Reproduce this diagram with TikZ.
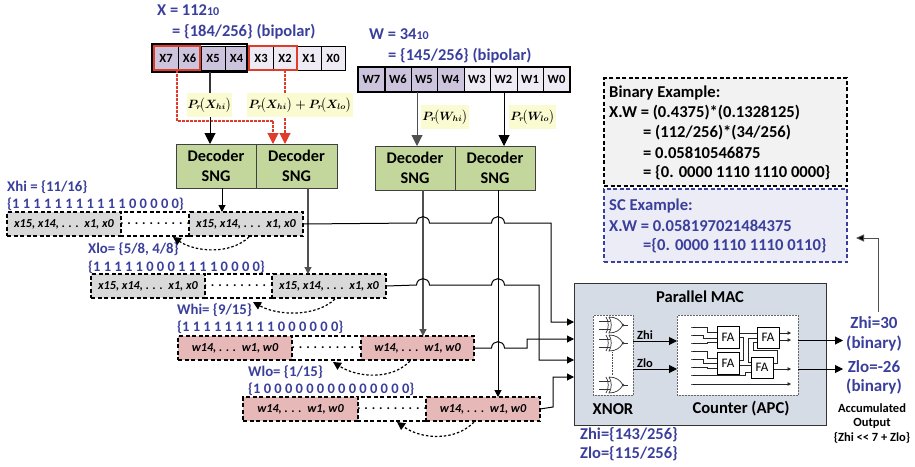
\documentclass[tikz,border=0pt]{standalone}
\usepackage{amsmath}
\usepackage{fontspec}
\setmainfont{Carlito}
\usetikzlibrary{arrows.meta,calc}
\definecolor{tblue}{HTML}{3A3F9C}
\definecolor{reghi}{HTML}{CCC4DC}
\definecolor{reglo}{HTML}{EFEBF4}
\definecolor{decg}{HTML}{C3D69B}
\definecolor{yel}{HTML}{FBFBD2}
\definecolor{rowg}{HTML}{D9D9D9}
\definecolor{rowp}{HTML}{E6B8B7}
\definecolor{macb}{HTML}{D6DCE6}
\definecolor{redl}{HTML}{E03C2C}
\definecolor{wire}{HTML}{505050}
\newcommand\pxbox[7]{\pgfmathsetmacro\wa{#4-#2}\pgfmathsetmacro\ha{#5-#3}\node[#6,minimum width=\wa pt,minimum height=\ha pt,inner sep=0pt,outer sep=0pt] (#1) at ({(#2+#4)/2},{(#3+#5)/2}) {#7};}
\newcommand\xgate[2]{\begin{scope}[shift={(#1,#2)},line width=.7pt,black!80]
 \draw (0,-4)--(11,-4) (0,4)--(11,4);
 \draw (7,-8) .. controls (10,-4) and (10,4) .. (7,8);
 \draw (10,-8) .. controls (17,-8) and (21,-5) .. (24,0) .. controls (21,5) and (17,8) .. (10,8) .. controls (13,4) and (13,-4) .. (10,-8);
 \draw (24,0) circle (1pt);
 \draw (25,0)--(29,0);
\end{scope}}
\tikzset{
 x=1pt,y=-1pt,
 cell/.style={draw=black,line width=.9pt,font=\fontsize{12.5}{13}\selectfont\bfseries},
 hi/.style={cell,fill=reghi},
 lo/.style={cell,fill=reglo},
 dec/.style={draw=black!75,line width=.9pt,fill=decg,align=center,font=\fontsize{16.3}{20}\selectfont\bfseries},
 yelbox/.style={fill=yel,font=\fontsize{11.5}{12}\selectfont\boldmath},
 seg/.style={draw=black,line width=1.2pt,dash pattern=on 4pt off 2.5pt,font=\fontsize{12.2}{14}\selectfont\bfseries\itshape},
 sgg/.style={seg,fill=rowg},
 sgp/.style={seg,fill=rowp},
 sgw/.style={seg,fill=white,font=\fontsize{13}{14}\selectfont\bfseries},
 bl/.style={anchor=west,inner sep=0pt,text=tblue,font=\fontsize{14.8}{16}\selectfont\bfseries},
 bits/.style={bl,font=\fontsize{14.5}{16}\selectfont\bfseries},
 hd/.style={bl,font=\fontsize{16.5}{18}\selectfont\bfseries},
 bigt/.style={bl,font=\fontsize{16.6}{18}\selectfont\bfseries},
 tx/.style={anchor=west,inner sep=0pt,font=\fontsize{16.6}{18}\selectfont\bfseries},
 ct/.style={inner sep=0pt,font=\fontsize{16.6}{18}\selectfont\bfseries},
 outl/.style={inner sep=0pt,text=tblue,font=\fontsize{17}{18}\selectfont\bfseries},
 accl/.style={inner sep=0pt,font=\fontsize{12.5}{14}\selectfont\bfseries},
 bigarr/.style={-{Triangle[length=11pt,width=11pt]},line width=1pt},
 smarr/.style={-{Triangle[length=7pt,width=7pt]},line width=1pt},
 tinyarr/.style={-{Triangle[length=3.5pt,width=3.5pt]},line width=.7pt},
 curv/.style={-{Triangle[length=8pt,width=8pt]},line width=1.2pt,dash pattern=on 2.5pt off 2pt},
 rd/.style={draw=redl,line width=1.1pt,dash pattern=on 2.5pt off 1.5pt},
 fa/.style={draw=black,line width=.8pt,fill=white,font=\fontsize{13}{14}\selectfont},
 pin/.style={draw=black,line width=.7pt,fill=white},
 inw/.style={line width=.7pt,black!85},
 dotbox/.style={draw=black!60,line width=.5pt,densely dotted,fill=white},
}
\begin{document}
\begin{tikzpicture}
\useasboundingbox (0,0) rectangle (915,466);
% header text
\node[hd] (xt1) at (157,10) {X = 112{\fontsize{12}{14}\selectfont 10}};
\node[hd] (xt2) at (172,32) {= \{184/256\} (bipolar)};
\node[hd] (wt1) at (369,34) {W = 34{\fontsize{12}{14}\selectfont 10}};
\node[hd] (wt2) at (388,56) {= \{145/256\} (bipolar)};
% X register
\pxbox{x7}{154}{46}{178}{70}{hi}{X7}
\pxbox{x6}{178}{46}{201}{70}{hi}{X6}
\pxbox{x5}{201}{46}{225}{70}{hi}{X5}
\pxbox{x4}{225}{46}{248}{70}{hi}{X4}
\pxbox{x3}{249}{46}{273}{70}{lo}{X3}
\pxbox{x2}{273}{46}{297}{70}{lo}{X2}
\pxbox{x1}{297}{46}{321}{70}{lo}{X1}
\pxbox{x0}{321}{46}{345}{70}{lo}{X0}
\pxbox{xhib}{152}{44}{247}{72}{draw=black,line width=1.5pt}{}
\pxbox{xr1}{154}{46}{200}{70}{draw=redl,line width=1.5pt}{}
\pxbox{xr2}{249}{46}{297}{70}{draw=redl,line width=1.5pt}{}
% W register
\pxbox{w7}{358}{67}{385}{92}{hi,line width=1.4pt}{W7}
\pxbox{w6}{385}{67}{411}{92}{hi}{W6}
\pxbox{w5}{411}{67}{437}{92}{hi}{W5}
\pxbox{w4}{437}{67}{464}{92}{hi}{W4}
\pxbox{w3}{464}{67}{490}{92}{lo}{W3}
\pxbox{w2}{490}{67}{517}{92}{lo}{W2}
\pxbox{w1}{517}{67}{543}{92}{lo}{W1}
\pxbox{w0}{543}{67}{570}{92}{lo}{W0}
\pxbox{wframe}{358}{67}{570}{92}{draw=black,line width=1.4pt}{}
% decoders
\pxbox{da}{176}{144}{256}{188}{dec}{Decoder\\SNG}
\pxbox{db}{256}{144}{337}{188}{dec}{Decoder\\SNG}
\pxbox{dc}{375}{146}{455}{190}{dec}{Decoder\\SNG}
\pxbox{dd}{455}{146}{535}{190}{dec}{Decoder\\SNG}
% probabilities
\coordinate (cxa) at (210,100);
\coordinate (cr1) at (177,121);
\coordinate (cr2) at (273,121);
\coordinate (cr3) at (285,100);
\coordinate (cw1) at (417,100);
\coordinate (cw2) at (504,100);
\draw[rd] (xr1.south -| cr1) -- (cr1) -- (cr2);
\draw[rd,-{Triangle[length=11pt,width=11pt,fill=redl]}] (cr2) -- (da.north -| cr2);
\draw[rd,-{Triangle[length=11pt,width=11pt,fill=redl]}] (xr2.south -| cr3) -- (db.north -| cr3);
\draw[line width=1.1pt,black!80] (xhib.south -| cxa) -- (cxa);
\pxbox{py1}{187}{93}{232}{117}{yelbox}{$P_r\!\bigl(X_{hi}\bigr)$}
\pxbox{py2}{247}{93}{353}{117}{yelbox}{$P_r\!\bigl(X_{hi}\bigr)+P_r\!\bigl(X_{lo}\bigr)$}
\draw[bigarr] (py1.south -| cxa) -- (da.north -| cxa);
\draw[bigarr,wire] (wframe.south -| cw1) -- (dc.north -| cw1);
\draw[bigarr] (wframe.south -| cw2) -- (dd.north -| cw2);
\pxbox{py3}{421}{105}{469}{129}{yelbox}{$P_r\!\bigl(W_{hi}\bigr)$}
\pxbox{py4}{509}{105}{556}{129}{yelbox}{$P_r\!\bigl(W_{lo}\bigr)$}
% rows
\node[bl] (l1a) at (7,187) {Xhi = \{11/16\}};
\node[bits] (l1b) at (7,204) {\{1 1 1 1 1 1 1 1 1 1 1 0 0 0 0 0\}};
\pxbox{r1m}{121}{212}{189}{236}{sgw}{. . . . . . . . . .}
\pxbox{r1l}{7}{212}{121}{236}{sgg}{x15, x14, . . .\ \ x1, x0}
\pxbox{r1r}{189}{212}{303}{236}{sgg}{x15, x14, . . .\ \ x1, x0}
\node[bl] (l2a) at (88,249) {Xlo= \{5/8, 4/8\}};
\node[bits] (l2b) at (88,267) {\{1 1 1 1 1 0 0 0 1 1 1 1 0 0 0 0\}};
\pxbox{r2m}{205}{274}{272}{298}{sgw}{. . . . . . . . . .}
\pxbox{r2l}{91}{274}{205}{298}{sgg}{x15, x14, . . .\ \ x1, x0}
\pxbox{r2r}{272}{274}{386}{298}{sgg}{x15, x14, . . .\ \ x1, x0}
\node[bl] (l3a) at (177,310) {Whi= \{9/15\}};
\node[bits] (l3b) at (177,327) {\{1 1 1 1 1 1 1 1 1 0 0 0 0 0 0\}};
\pxbox{r3m}{292}{336}{361}{360}{sgw}{. . . . . . . . . .}
\pxbox{r3l}{178}{336}{292}{360}{sgp}{w14, . . .\ \ w1, w0}
\pxbox{r3r}{361}{336}{474}{360}{sgp}{w14, . . .\ \ w1, w0}
\node[bl] (l4a) at (248,372) {Wlo= \{1/15\}};
\node[bits] (l4b) at (248,389) {\{1 0 0 0 0 0 0 0 0 0 0 0 0 0 0\}};
\pxbox{r4m}{358}{397}{426}{421}{sgw}{. . . . . . . . . .}
\pxbox{r4l}{243}{397}{358}{421}{sgp}{w14, . . .\ \ w1, w0}
\pxbox{r4r}{426}{397}{540}{421}{sgp}{w14, . . .\ \ w1, w0}
% curved arrows
\draw[curv] (249,237) .. controls (230,255) and (195,252) .. (173,237);
\draw[curv] (335,299) .. controls (316,317) and (278,316) .. (253,302);
\draw[curv] (410,361) .. controls (392,380) and (358,378) .. (333,362);
\draw[curv] (474,422) .. controls (456,441) and (422,440) .. (397,422);
% decoder outputs
\coordinate (c1) at (222,200);
\coordinate (c2) at (308,200);
\coordinate (c3) at (423,200);
\coordinate (c4) at (498,200);
\draw[smarr] (da.south -| c1) -- (r1r.north -| c1);
\draw[smarr,wire,line width=1.1pt] (db.south -| c2) -- (r2r.north -| c2);
\draw[smarr,wire,line width=1.3pt] (dc.south -| c3) -- (r3r.north -| c3);
\draw[smarr] (dd.south -| c4) -- (r4r.north -| c4);
% MAC
\pxbox{mac}{574}{283}{826}{425}{draw=black!80,line width=.9pt,fill=macb}{}
\node[ct] (mact) at (700,297) {Parallel MAC};
\pxbox{xn}{593}{315}{633}{395}{dotbox}{}
\pxbox{cn}{677}{315}{798}{395}{dotbox}{}
\node[ct] (xnt) at (613,409) {XNOR};
\node[ct] (cnt) at (741,409) {Counter (APC)};
% wires with hops
\draw[smarr] (r1r.east) -- (416.5,223) .. controls (417,214.5) and (429,214.5) .. (429.5,223) -- (491.5,223) .. controls (492,214.5) and (504,214.5) .. (504.5,223) -- (551,223) -- (551,322) -- (mac.west |- 0,322);
\draw[smarr] (r2r.east) -- (416.5,285) .. controls (417,276.5) and (429,276.5) .. (429.5,285) -- (491.5,285) .. controls (492,276.5) and (504,276.5) .. (504.5,285) -- (539,285) -- (539,360) -- (mac.west |- 0,360);
\draw[smarr] (r3r.east) -- (491.5,348) .. controls (492,339.5) and (504,339.5) .. (504.5,348) -- (527,348) -- (527,339) -- (mac.west |- 0,339);
\draw[smarr] (r4r.east) -- (553,407) -- (553,377) -- (mac.west |- 0,377);
% gates
\xgate{599}{325}
\xgate{599}{343}
\xgate{599}{385}
\draw[black!70,line width=.6pt,densely dotted] (612,352) -- (612,375);
\draw[bigarr,line width=1pt,-{Triangle[length=8pt,width=8pt]}] (xn.east |- 0,341) -- (cn.west |- 0,341);
\draw[bigarr,line width=1pt,-{Triangle[length=8pt,width=8pt]}] (xn.east |- 0,369) -- (cn.west |- 0,369);
\node[inner sep=0pt,font=\fontsize{12.5}{13}\selectfont\bfseries] (zhl) at (645,335) {Zhi};
\node[inner sep=0pt,font=\fontsize{12.5}{13}\selectfont\bfseries] (zll) at (645,363) {Zlo};
% counter internals
\draw[inw] (693,327) -- (707,327) -- (707,332) -- (717,332);
\draw[inw] (693,335) -- (703,335) -- (703,338) -- (717,338);
\draw[inw] (693,343) -- (707,343) -- (707,342) -- (717,342);
\draw[inw] (693,351) -- (707,351) -- (707,358) -- (717,358);
\draw[inw] (693,359) -- (703,359) -- (703,363) -- (717,363);
\draw[inw] (693,367) -- (707,367) -- (707,368) -- (717,368);
\draw[inw] (693,375) -- (745,375) -- (745,372) -- (751,372);
\draw[inw,tinyarr] (693,384) -- (791,384);
\draw[inw] (739,333) -- (757,333);
\draw[inw] (739,337) -- (743,337) -- (743,360) -- (739,360);
\draw[inw] (748,338) -- (757,338);
\draw[inw] (748,338) -- (748,362) -- (751,362);
\draw[inw] (739,365) -- (751,365);
\draw[inw] (773,363) -- (777,363) -- (777,350) -- (753,350) -- (753,342) -- (757,342);
\draw[inw,tinyarr] (779,333) -- (791,333);
\draw[inw,tinyarr] (779,340) -- (791,340);
\draw[inw,tinyarr] (773,369) -- (791,369);
\foreach \yy/\nn in {327/a,335/b,343/c,351/d,359/e,367/f,375/g,384/h}{
 \pxbox{pin\nn}{691}{\yy-2}{695}{\yy+2}{pin}{}
}
\pxbox{fa1}{717}{326}{739}{348}{fa}{FA}
\pxbox{fa2}{757}{327}{779}{348}{fa}{FA}
\pxbox{fa3}{717}{352}{739}{374}{fa}{FA}
\pxbox{fa4}{751}{357}{773}{378}{fa}{FA}
% outputs
\coordinate (o1) at (843,340.5);
\coordinate (o2) at (843,369);
\draw[line width=1pt,-{Triangle[length=8pt,width=8pt]}] (cn.east |- o1) -- (o1);
\draw[line width=1pt,-{Triangle[length=8pt,width=8pt]}] (cn.east |- o2) -- (o2);
\node[outl] (zh1) at (874,323) {Zhi=30};
\node[outl] (zh2) at (874,344) {(binary)};
\node[outl] (zl1) at (874,367) {Zlo=-26};
\node[outl] (zl2) at (874,387) {(binary)};
\node[accl] (ac1) at (872,408) {Accumulated};
\node[accl] (ac2) at (872,423) {Output};
\node[accl] (ac3) at (872,438) {\{Zhi {<}{<} 7 + Zlo\}};
\node[bl,font=\fontsize{16.5}{18}\selectfont\bfseries] (zb1) at (580,435) {Zhi=\{143/256\}};
\node[bl,font=\fontsize{16.5}{18}\selectfont\bfseries] (zb2) at (580,454) {Zlo=\{115/256\}};
% examples
\pxbox{bin}{604}{78}{847}{186}{draw=black,line width=1.1pt,dash pattern=on 4pt off 2.5pt,fill=black!5}{}
\pxbox{sc}{604}{189}{847}{262}{draw=tblue,line width=1.1pt,dash pattern=on 4pt off 2.5pt,fill=tblue!10}{}
\node[tx] (b1) at (609,93) {Binary Example:};
\node[tx] (b2) at (609,113) {X.W = (0.4375)*(0.1328125)};
\node[tx] (b3) at (643,133) {= (112/256)*(34/256)};
\node[tx] (b4) at (643,153) {= 0.05810546875};
\node[tx] (b5) at (643,173) {= \{0. 0000 1110 1110 0000\}};
\node[bigt] (s1) at (609,206) {SC Example:};
\node[bigt] (s2) at (609,226) {X.W = 0.058197021484375};
\node[bigt] (s3) at (643,246) {=\{0. 0000 1110 1110 0110\}};
% feedback
\coordinate (fb) at (878,238);
\draw[line width=.9pt,wire,-{Triangle[length=8pt,width=7pt,fill=black]}] (878,312) -- (fb) -- (856,238);
\end{tikzpicture}
\end{document}
